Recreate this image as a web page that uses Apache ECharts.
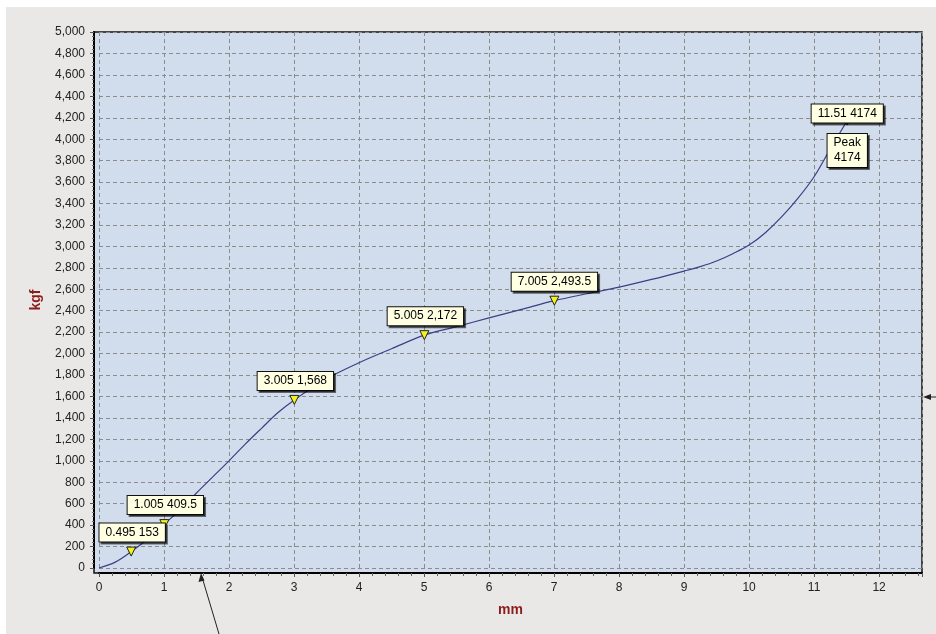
<!DOCTYPE html>
<html><head><meta charset="utf-8">
<script src="https://cdn.jsdelivr.net/npm/echarts@6/dist/echarts.min.js"></script>
<style>html,body{margin:0;padding:0;background:#fff}#c{width:936px;height:634px}</style>
</head><body><div id="c"></div>
<script>
// curve (mm, kgf)
const mm  = [0, 0.25, 0.495, 0.75, 1.005, 1.25, 1.5, 1.75, 2, 2.25, 2.5, 2.75, 3.005, 3.5, 4, 4.5, 5.005, 5.5, 6, 6.5, 7.005, 7.5, 8, 8.5, 9, 9.25, 9.5, 9.75, 10, 10.25, 10.5, 10.75, 11, 11.25, 11.51];
const kgf = [0, 55, 153, 270, 409.5, 545, 700, 850, 1000, 1155, 1303, 1448, 1568, 1765, 1915, 2045, 2172, 2252, 2333, 2413, 2493.5, 2558, 2620, 2692, 2770, 2812, 2864, 2932, 3012, 3128, 3275, 3448, 3650, 3910, 4174];
// annotated points
const markMm  = [0.495, 1.005, 3.005, 5.005, 7.005, 11.51];
const markKgf = [153, 409.5, 1568, 2172, 2493.5, 4174];
const markLabels = ['0.495 153', '1.005 409.5', '3.005 1,568', '5.005 2,172', '7.005 2,493.5', '11.51 4174'];
const peakMm = [11.51];
const peakKgf = [4174];
const peakLabels = ['Peak\n4174'];
// axis
const xMin = 0, xMax = 12.66, xStep = 1;
const yMin = 0, yMax = 5000, yStep = 200;

const lineData = mm.map((v, i) => [v, kgf[i]]);
const labelOffsets = [[1, -19], [1, -19], [1, -19], [1, -19], [0, -19], [0, -7]];
const markData = markMm.map((v, i) => ({
  value: [v, markKgf[i]],
  label: { formatter: markLabels[i], offset: labelOffsets[i] }
}));
const peakData = peakMm.map((v, i) => ({
  value: [v, peakKgf[i]],
  label: { formatter: peakLabels[i], offset: [0, 30] }
}));

const font = 'Liberation Sans, Arial, sans-serif';
const boxLabel = {
  show: true, position: 'inside', color: '#000', fontSize: 12,
  fontFamily: font, lineHeight: 15,
  backgroundColor: '#ffffe1', borderColor: '#111', borderWidth: 1,
  padding: [2, 6, 1, 6],
  shadowColor: 'rgba(0,0,0,0.55)', shadowOffsetX: 2, shadowOffsetY: 2, shadowBlur: 0
};
const chart = echarts.init(document.getElementById('c'), null, { renderer: 'canvas' });
chart.setOption({
  animation: false,
  backgroundColor: '#ffffff',
  graphic: [
    { type: 'rect', z: -20, silent: true, shape: { x: 6, y: 7, width: 930, height: 627 }, style: { fill: '#e9e8e6' } },
    { type: 'rect', z: -10, silent: true, shape: { x: 94, y: 32, width: 828, height: 541 }, style: { fill: '#d1ddec', stroke: '#111', lineWidth: 1.5 } },
    { type: 'line', z: 50, silent: true, shape: { x1: 219, y1: 634, x2: 202, y2: 577 }, style: { stroke: '#222', lineWidth: 1 } },
    { type: 'polygon', z: 50, silent: true, shape: { points: [[201, 573], [198.5, 582], [204.5, 580.5]] }, style: { fill: '#222' } },
    { type: 'line', z: 50, silent: true, shape: { x1: 936, y1: 397, x2: 928, y2: 397 }, style: { stroke: '#222', lineWidth: 1 } },
    { type: 'polygon', z: 50, silent: true, shape: { points: [[923, 397], [931, 394], [931, 400]] }, style: { fill: '#222' } }
  ],
  grid: { left: 99, right: 14, top: 32, bottom: 66, containLabel: false },
  xAxis: {
    type: 'value', min: xMin, max: xMax, interval: xStep, offset: 5,
    name: 'mm', nameLocation: 'middle', nameGap: 30,
    nameTextStyle: { color: '#8b1c1c', fontWeight: 'bold', fontSize: 14, fontFamily: font },
    axisLine: { show: true, onZero: false, lineStyle: { color: '#000', width: 2 } },
    axisTick: { show: true, length: 4, lineStyle: { color: '#555' } },
    minorTick: { show: true, splitNumber: 5, length: 3, lineStyle: { color: '#666' } },
    axisLabel: { color: '#222', fontSize: 12, fontFamily: font, margin: 9,
      formatter: v => Number.isInteger(v) ? String(v) : '' },
    splitLine: { show: true, lineStyle: { color: '#8c8c8c', type: [4, 3], width: 1 } }
  },
  yAxis: {
    type: 'value', min: yMin, max: yMax, interval: yStep, offset: 5,
    name: 'kgf', nameLocation: 'middle', nameGap: 51, nameRotate: 90,
    nameTextStyle: { color: '#8b1c1c', fontWeight: 'bold', fontSize: 14, fontFamily: font },
    axisLine: { show: true, onZero: false, lineStyle: { color: '#000', width: 2 } },
    axisTick: { show: true, length: 4, lineStyle: { color: '#555' } },
    minorTick: { show: true, splitNumber: 5, length: 2, lineStyle: { color: '#777' } },
    axisLabel: { color: '#222', fontSize: 12, fontFamily: font, margin: 9,
      formatter: v => v.toLocaleString('en-US') },
    splitLine: { show: true, lineStyle: { color: '#8c8c8c', type: [4, 3], width: 1 } }
  },
  series: [
    { type: 'line', data: lineData, smooth: 0.35, showSymbol: false, z: 3,
      lineStyle: { color: '#3e3e86', width: 1.2 } },
    { type: 'scatter', data: markData, z: 5, symbol: 'triangle', symbolRotate: 180, symbolSize: [9, 9],
      itemStyle: { color: '#f2f21c', borderColor: '#222', borderWidth: 1, opacity: 1 },
      label: boxLabel },
    { type: 'scatter', data: peakData, z: 5, symbolSize: 0,
      itemStyle: { color: 'rgba(0,0,0,0)', opacity: 1 },
      label: Object.assign({}, boxLabel, { align: 'center' }) }
  ]
});
</script></body></html>
